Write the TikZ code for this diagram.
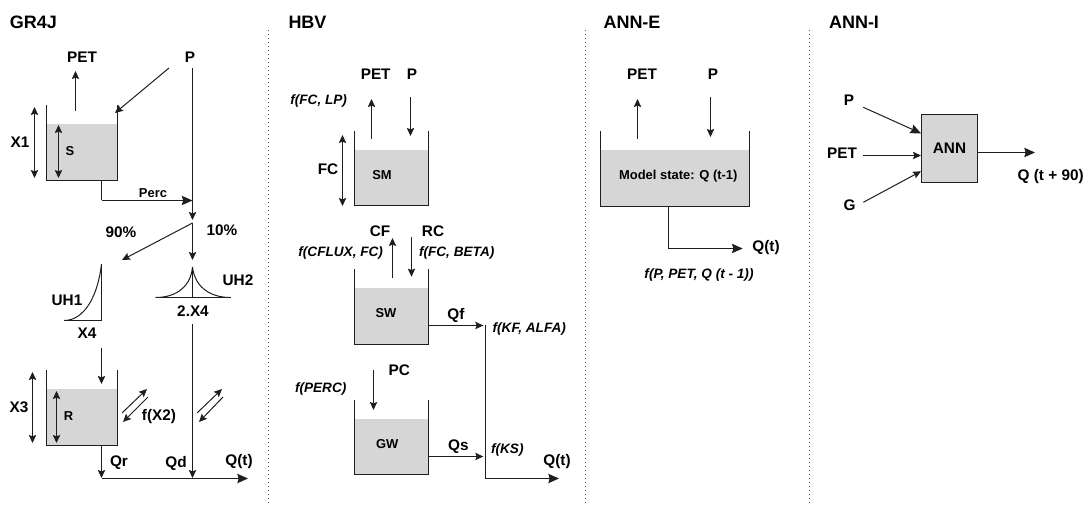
\documentclass[tikz,border=0pt]{standalone}
\usepackage{fontspec}
\setmainfont{Liberation Sans}
\usetikzlibrary{arrows.meta}
\definecolor{ink}{HTML}{1E1E1E}
\definecolor{water}{HTML}{D6D6D6}
\definecolor{sep}{HTML}{555555}
\tikzset{
  wire/.style={draw=ink,line width=0.75pt},
  flow/.style={wire,-{Stealth[length=6pt,width=5.5pt,inset=1pt]}},
  bigflow/.style={wire,-{Stealth[length=8pt,width=7pt,inset=1pt]}},
  both/.style={wire,{Stealth[length=6pt,width=5.5pt,inset=1pt]}-{Stealth[length=6pt,width=5.5pt,inset=1pt]}},
  title/.style={font=\bfseries\fontsize{13.5}{15}\selectfont,text=black,inner sep=0pt},
  lab/.style={font=\bfseries\fontsize{11.5}{13}\selectfont,text=black,inner sep=0pt},
  small/.style={font=\bfseries\fontsize{9.7}{11}\selectfont,text=black,inner sep=0pt},
  fn/.style={font=\bfseries\itshape\fontsize{10.2}{12}\selectfont,text=black,inner sep=0pt},
  divider/.style={draw=sep,line width=0.75pt,dash pattern=on 0.75pt off 2.25pt},
}
% free-ended connector between two named coordinates
\newcommand\lnk[4]{\coordinate (#2-a) at (#3);\coordinate (#2-b) at (#4);\draw[#1] (#2-a) -- (#2-b);}
% open tank: name, left, right, top of wall, water level, bottom
\newcommand\tank[6]{%
  \fill[water] (#2,#5) rectangle (#3,#6);
  \coordinate (#1-nw) at (#2,#4);\coordinate (#1-ne) at (#3,#4);
  \coordinate (#1-sw) at (#2,#6);\coordinate (#1-se) at (#3,#6);
  \draw[wire,line join=miter] (#1-nw) -- (#1-sw) -- (#1-se) -- (#1-ne);}
\begin{document}
\begin{tikzpicture}[x=0.75pt,y=-0.75pt]
\useasboundingbox (0,0) rectangle (1089,506);
% dividers
\lnk{divider}{da}{268.5,30}{268.5,506}
\lnk{divider}{db}{585.5,30}{585.5,506}
\lnk{divider}{dc}{809.5,30}{809.5,506}
% titles
\node[title] (tgr) at (33.5,22) {GR4J};
\node[title] (thbv) at (307.5,22) {HBV};
\node[title] (tanne) at (632,22) {ANN-E};
\node[title] (tanni) at (854,22) {ANN-I};

% ---------- GR4J
\tank{S}{46.5}{117.5}{105}{124}{180.5}
\tank{R}{46.5}{117.5}{370}{389}{445.5}
\node[lab] (g-pet) at (82,57) {PET};
\node[lab] (g-p) at (190,57) {P};
\node[lab] (g-x1) at (20,142) {X1};
\node[small] (g-s) at (70,151) {S};
\node[small] (g-perc) at (153,193) {Perc};
\node[lab] (g-90) at (121,232) {90\%};
\node[lab] (g-10) at (222,230) {10\%};
\node[lab] (g-uh1) at (67,300.5) {UH1};
\node[lab] (g-x4) at (87,333) {X4};
\node[lab] (g-uh2) at (238,280) {UH2};
\node[lab] (g-2x4) at (193,311) {2.X4};
\node[lab] (g-x3) at (19,407) {X3};
\node[small] (g-r) at (68.5,416.5) {R};
\node[lab] (g-fx2) at (159,417) {f(X2)};
\node[lab] (g-qr) at (119,463) {Qr};
\node[lab] (g-qd) at (176,463) {Qd};
\node[lab] (g-qt) at (239,462) {Q(t)};
\lnk{flow}{g1}{75.5,111}{75.5,71}
\lnk{flow}{g2}{169,68}{115,113}
\lnk{flow}{g3}{192.5,68}{192.5,220}
\lnk{both}{g4}{34.5,107}{34.5,178}
\lnk{both}{g5}{58.5,125}{58.5,178}
\coordinate (g-split) at (192.5,223);
\coordinate (g-h1) at (122,260);
\coordinate (g-h2) at (192.5,260);
\draw[flow] (g-split) -- (g-h1);
\draw[flow] (g-split) -- (g-h2);
\coordinate (g-pj) at (192.5,200.5);
\draw[wire] (101.5,0 |- S-sw) -- (101.5,200.5);
\draw[bigflow] (101.5,200.5) -- (g-pj);
% UH1
\coordinate (uh1-a) at (64,320.5);\coordinate (uh1-b) at (101.5,320.5);\coordinate (uh1-c) at (101.5,264);
\draw[wire] (uh1-a) -- (uh1-b) -- (uh1-c);
\draw[wire] (uh1-a) .. controls (85,320.5) and (98,295) .. (uh1-c);
% UH2
\coordinate (uh2-a) at (155.5,297.5);\coordinate (uh2-b) at (230.5,297.5);\coordinate (uh2-c) at (192.5,267);\coordinate (uh2-d) at (192.5,297.5);
\draw[wire] (uh2-a) -- (uh2-b);
\draw[wire] (uh2-d) -- (uh2-c);
\draw[wire] (uh2-a) .. controls (178,297.5) and (191,285) .. (uh2-c);
\draw[wire] (uh2-b) .. controls (208,297.5) and (194.5,285) .. (uh2-c);
\lnk{flow}{g6}{192.5,324}{192.5,478}
\lnk{flow}{g7}{101.5,348}{101.5,384}
\lnk{both}{g8}{32.5,372}{32.5,443}
\lnk{both}{g9}{56.5,391}{56.5,443}
\lnk{flow}{g10}{122,413}{147,389}
\lnk{flow}{g11}{148,397}{123,422}
\lnk{flow}{g12}{197,413}{222,389}
\lnk{flow}{g13}{223,397}{199,422}
\draw[flow] (101.5,0 |- R-sw) -- (101.5,478);
\lnk{bigflow}{g14}{101.5,478.5}{248,478.5}

% ---------- HBV
\tank{SM}{354.5}{428.5}{130.7}{149.7}{205.5}
\tank{SW}{354.5}{428.5}{269}{287.7}{344.5}
\tank{GW}{354.5}{428.5}{399.7}{419}{474.5}
\node[lab] (h-pet) at (375.7,74) {PET};
\node[lab] (h-p) at (412,74) {P};
\node[fn] (h-f1) at (318.7,101) {f(FC, LP)};
\node[lab] (h-fc) at (328,169) {FC};
\node[small] (h-sm) at (382,175) {SM};
\node[lab] (h-cf) at (380,231) {CF};
\node[lab] (h-rc) at (433,231) {RC};
\node[fn] (h-f2) at (340.7,253.3) {f(CFLUX, FC)};
\node[fn] (h-f3) at (456.7,253.3) {f(FC, BETA)};
\node[small] (h-sw) at (386,313.3) {SW};
\node[lab] (h-qf) at (456,315) {Qf};
\node[fn] (h-f4) at (529.3,329.3) {f(KF, ALFA)};
\node[lab] (h-pc) at (399.3,370.7) {PC};
\node[fn] (h-f5) at (320.7,389.3) {f(PERC)};
\node[small] (h-gw) at (387.3,444) {GW};
\node[lab] (h-qs) at (458.3,446.7) {Qs};
\node[fn] (h-f6) at (507.3,450) {f(KS)};
\node[lab] (h-qt) at (557,461.7) {Q(t)};
\lnk{flow}{h1}{371.5,138.7}{371.5,99}
\lnk{flow}{h2}{410.5,97}{410.5,136}
\lnk{both}{h3}{342.5,135}{342.5,206}
\lnk{flow}{h4}{392.5,278}{392.5,238}
\lnk{flow}{h5}{411.5,237}{411.5,276.7}
\coordinate (h-j1) at (483.3,325.5);
\coordinate (h-j2) at (483.3,456.5);
\draw[flow] (SW-se |- h-j1) -- (h-j1);
\draw[flow] (GW-se |- h-j2) -- (h-j2);
\lnk{flow}{h6}{373.5,370}{373.5,410}
\coordinate (h-t) at (485.5,325);
\coordinate (h-c) at (485.5,478.5);
\coordinate (h-e) at (559,478.5);
\draw[wire] (h-t) -- (h-c);
\draw[bigflow] (h-c) -- (h-e);

% ---------- ANN-E
\tank{ME}{600.5}{749.5}{131}{150}{206.5}
\node[lab] (e-pet) at (642,74.7) {PET};
\node[lab] (e-p) at (713,74.7) {P};
\node[small] (e-state) at (678.3,175.7) {Model state: Q (t-1)};
\node[lab] (e-qt) at (766,248) {Q(t)};
\node[fn] (e-f) at (699,275) {f(P, PET, Q (t - 1))};
\lnk{flow}{e1}{637.5,139}{637.5,99}
\lnk{flow}{e2}{710.5,97}{710.5,137}
\coordinate (e-c) at (668.5,248.5);
\coordinate (e-e) at (742.7,248.5);
\draw[wire] (668.5,0 |- ME-sw) -- (e-c);
\draw[bigflow] (e-c) -- (e-e);

% ---------- ANN-I
\node[draw=ink,fill=water,line width=0.75pt,minimum width=42pt,minimum height=51pt,inner sep=0pt,
      font=\bfseries\fontsize{11.5}{13}\selectfont] (ann) at (949.5,148.5) {ANN};
\node[lab] (i-p) at (849,100) {P};
\node[lab] (i-pet) at (842,153) {PET};
\node[lab] (i-g) at (849.7,205) {G};
\node[lab] (i-q) at (1050.7,176.7) {Q (t + 90)};
\coordinate (i-a) at (863.3,107.3);
\coordinate (i-b) at (863.3,155.5);
\coordinate (i-c) at (863.3,202.3);
\coordinate (i-d) at (1035,152.5);
\draw[bigflow] (i-a) -- (ann.west |- 0,133.3);
\draw[flow] (i-b) -- (ann.west |- i-b);
\draw[flow] (i-c) -- (ann.west |- 0,171.3);
\draw[bigflow] (ann.east |- i-d) -- (i-d);
\end{tikzpicture}
\end{document}
